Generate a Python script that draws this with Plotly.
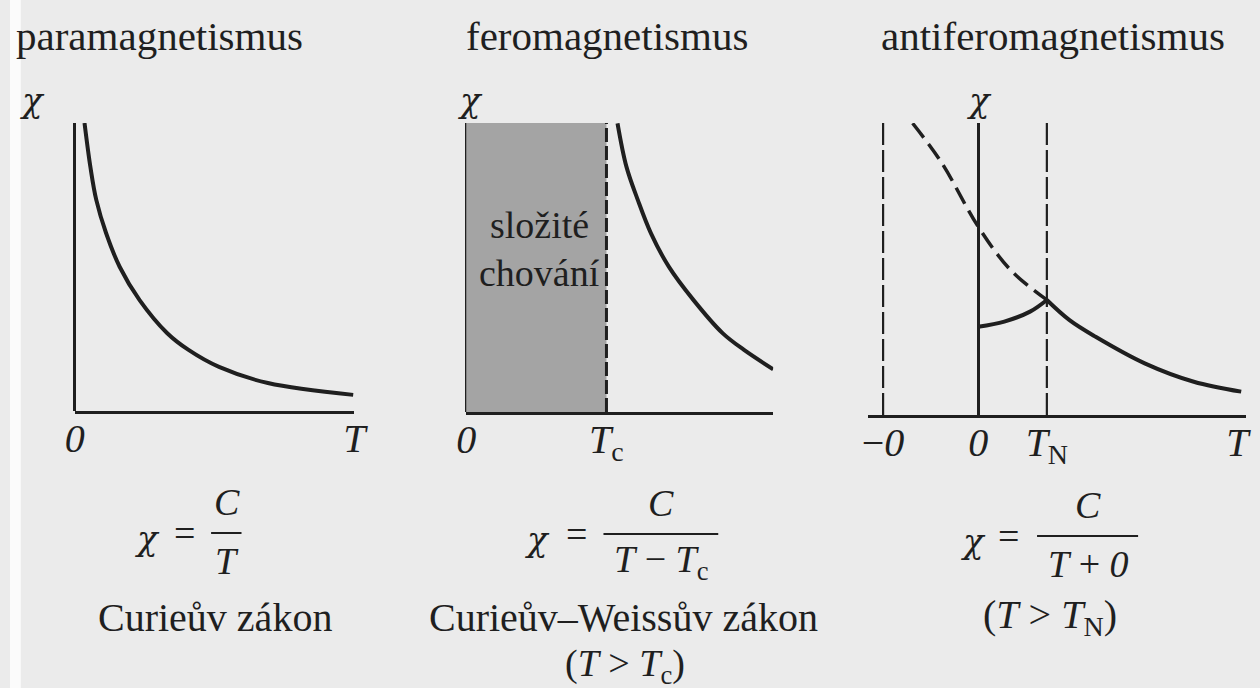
import plotly.graph_objects as go

# --- susceptibility curves (arbitrary units, chi axis 0..10) ---
para_T = [0.35, 0.56, 0.77, 1.12, 1.61, 2.32, 3.30, 4.07, 5.16, 6.91, 9.96]
para_chi = [10.0, 8.47, 7.33, 6.18, 5.00, 3.85, 2.71, 2.12, 1.53, 0.97, 0.56]

ferro_Tc = 4.57
ferro_T = [4.93, 5.22, 5.59, 6.02, 6.60, 7.40, 8.36, 9.05, 10.0]
ferro_chi = [9.99, 8.49, 7.34, 6.18, 5.03, 3.88, 2.72, 2.15, 1.48]

anti_theta = 2.77
anti_TN = 2.0
anti_extrap_T = [-1.91, -1.06, 0.0, 0.94, 2.0]
anti_extrap_chi = [9.99, 8.63, 6.45, 4.97, 3.94]
anti_low_T = [0.0, 0.76, 1.51, 2.0]
anti_low_chi = [3.02, 3.20, 3.54, 3.94]
anti_high_T = [2.0, 2.66, 3.42, 4.85, 6.28, 7.66]
anti_high_chi = [3.94, 3.25, 2.68, 1.77, 1.14, 0.80]

titles = ["paramagnetismus", "feromagnetismus", "antiferomagnetismus"]
region_label = ["složité", "chování"]

W, H = 1260, 688
FONT = "Liberation Serif"
GREEK = "DejaVu Serif"
INK = "#1f1f1f"
BG = "#ebebeb"


def px(x):
    return x / W


def py(y):
    return 1 - y / H


fig = go.Figure()

# paramagnet
fig.add_trace(go.Scatter(x=para_T, y=para_chi, mode="lines", xaxis="x", yaxis="y",
                         line=dict(color=INK, width=4, shape="spline")))

# ferromagnet: shaded region below Tc, dashed Tc line, Curie-Weiss curve
fig.add_trace(go.Scatter(x=[0, ferro_Tc, ferro_Tc, 0, 0], y=[0, 0, 10, 10, 0], mode="lines",
                         xaxis="x2", yaxis="y2", fill="toself", fillcolor="#a4a4a4",
                         line=dict(width=0, color="#a4a4a4")))
fig.add_trace(go.Scatter(x=[ferro_Tc, ferro_Tc], y=[0, 10], mode="lines", xaxis="x2", yaxis="y2",
                         line=dict(color=INK, width=3, dash="14px,4px")))
fig.add_trace(go.Scatter(x=ferro_T, y=ferro_chi, mode="lines", xaxis="x2", yaxis="y2",
                         line=dict(color=INK, width=4, shape="spline")))

# antiferromagnet
for xv in (-anti_theta, anti_TN):
    fig.add_trace(go.Scatter(x=[xv, xv], y=[0, 10], mode="lines", xaxis="x3", yaxis="y3",
                             line=dict(color=INK, width=2.2, dash="22px,5px")))
fig.add_trace(go.Scatter(x=anti_extrap_T, y=anti_extrap_chi, mode="lines", xaxis="x3", yaxis="y3",
                         line=dict(color=INK, width=3.5, dash="18px,8px", shape="spline")))
fig.add_trace(go.Scatter(x=anti_low_T, y=anti_low_chi, mode="lines", xaxis="x3", yaxis="y3",
                         line=dict(color=INK, width=4, shape="spline")))
fig.add_trace(go.Scatter(x=anti_high_T, y=anti_high_chi, mode="lines", xaxis="x3", yaxis="y3",
                         line=dict(color=INK, width=4, shape="spline")))

tickfont = dict(family=FONT, size=40, color=INK)


def xaxis(dom, rng, tv, tt):
    return dict(domain=[px(dom[0]), px(dom[1])], range=rng, showgrid=False,
                zeroline=True, zerolinecolor=INK, zerolinewidth=2.5,
                showline=True, linecolor=INK, linewidth=2.5, mirror=False,
                tickmode="array", tickvals=tv, ticktext=tt, ticks="",
                ticklabelstandoff=-10,
                tickfont=tickfont, layer="above traces", fixedrange=True)


def yaxis(dom, anchor):
    return dict(domain=[py(dom[1]), py(dom[0])], range=[0, 10], visible=False,
                anchor=anchor, fixedrange=True)


fig.update_layout(
    width=W, height=H, margin=dict(l=0, r=0, t=0, b=0),
    paper_bgcolor=BG, plot_bgcolor="rgba(0,0,0,0)", showlegend=False,
    xaxis=xaxis((66, 351), [0, 10], [0, 10], ["<i>0</i>", "<i>T</i>"]),
    yaxis=yaxis((123, 411), "x"),
    xaxis2=xaxis((465, 778), [0, 10], [0, ferro_Tc], ["<i>0</i>", "<i>T</i><sub>c</sub>"]),
    yaxis2=yaxis((123, 412), "x2"),
    xaxis3=xaxis((875, 1260), [-3.2, 7.8], [-anti_theta, 0, anti_TN, 7.55],
                 ["−<i>0</i>", "<i>0</i>", "<i>T</i><sub>N</sub>", "<i>T</i>"]),
    yaxis3=yaxis((123, 415), "x3"),
)
fig.layout.xaxis.anchor = "y"
fig.layout.xaxis2.anchor = "y2"
fig.layout.xaxis3.anchor = "y3"

ann = []


def text(x, y, s, size=40, xanchor="center", family=FONT):
    ann.append(dict(x=px(x), y=py(y), xref="paper", yref="paper", text=s, showarrow=False,
                    xanchor=xanchor, yanchor="middle",
                    font=dict(family=family, size=size, color=INK)))


# panel titles
text(4, 36, titles[0], size=41, xanchor="left")
text(463, 36, titles[1], size=41, xanchor="left")
text(886, 36, titles[2], size=41, xanchor="left")

# chi axis labels
text(23, 100, "<i>χ</i>", size=34, family=GREEK)
text(469, 100, "<i>χ</i>", size=34, family=GREEK)
text(988, 100, "<i>χ</i>", size=34, family=GREEK)

# label inside the shaded region
text(540, 225, region_label[0], size=38)
text(540, 273, region_label[1], size=38)

# formulas
bars = []


def fraction(x_chi, x_eq, x_mid, bar, num, den, y_mid):
    text(x_chi, y_mid + 5, "<i>χ</i>", size=34, family=GREEK)
    text(x_eq, y_mid, "=", size=38)
    text(x_mid, y_mid - 31, num, size=38)
    text(x_mid, y_mid + 28, den, size=38)
    bars.append(dict(type="line", xref="paper", yref="paper", x0=px(bar[0]), x1=px(bar[1]),
                     y0=py(y_mid), y1=py(y_mid), line=dict(color=INK, width=2)))


fraction(140, 178, 221, (205, 236), "<i>C</i>", "<i>T</i>", 533)
fraction(538, 577, 664, (605, 722), "<i>C</i>", "<i>T</i> − <i>T</i><sub>c</sub>", 534)
fraction(982, 1018, 1099, (1047, 1150), "<i>C</i>", "<i>T</i> + <i>0</i>", 536)

text(209, 617, "Curieův zákon")
text(625, 617, "Curieův–Weissův zákon")
text(627, 666, "(<i>T</i> > <i>T</i><sub>c</sub>)", size=38)
text(1060, 617, "(<i>T</i> > <i>T</i><sub>N</sub>)")

# white strip along the left edge of the page
bars.append(dict(type="rect", xref="paper", yref="paper", x0=0, x1=px(11), y0=0, y1=1,
                 fillcolor="#fbfbfb", line=dict(width=0), layer="below"))

fig.update_layout(annotations=ann, shapes=bars)

fig.write_html("out.html")
